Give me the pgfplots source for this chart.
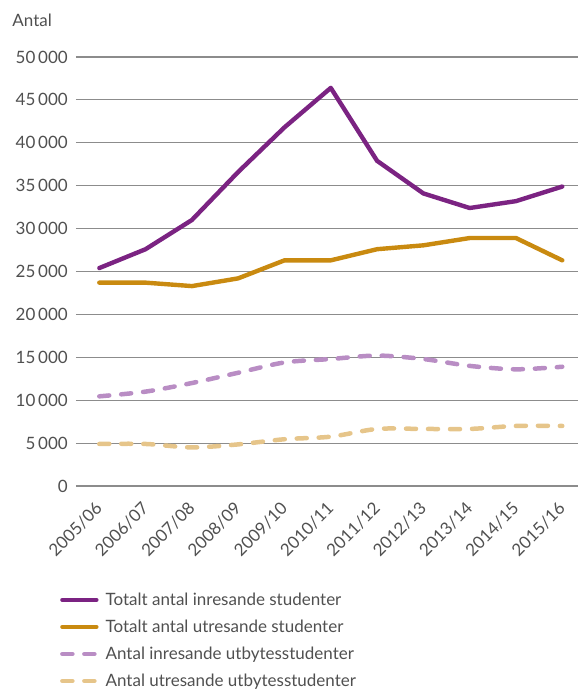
\documentclass[border=0pt]{standalone}
\usepackage{pgfplots}
\pgfplotsset{compat=1.18}
\usepackage{fontspec}
\setmainfont{Lato}
\definecolor{cP}{HTML}{7B2382}
\definecolor{cO}{HTML}{C98A10}
\definecolor{cLP}{HTML}{B98DC4}
\definecolor{cLO}{HTML}{E6C58A}
\definecolor{cGrid}{HTML}{8C8C8C}
\definecolor{cTxt}{HTML}{505050}
\begin{document}
\begin{tikzpicture}
\begin{axis}[
  scale only axis,
  width=502pt, height=429pt,
  xmin=-0.503, xmax=10.34,
  ymin=0, ymax=50000,
  axis line style={draw=none},
  ytick={0,5000,...,50000},
  ymajorgrids, grid style={cGrid, line width=1.1pt},
  major tick length=0pt,
  xtick={0,...,10},
  xticklabels={2005/06,2006/07,2007/08,2008/09,2009/10,2010/11,2011/12,2012/13,2013/14,2014/15,2015/16},
  x tick label style={rotate=45, anchor=north east, font=\fontsize{17}{19}\selectfont, text=cTxt, inner sep=0pt, xshift=-14pt, yshift=-7pt},
  y tick label style={font=\fontsize{17}{19}\selectfont, text=cTxt, inner sep=0pt, xshift=-8pt},
  scaled y ticks=false,
  /pgf/number format/.cd, 1000 sep={\,}, assume math mode=true,
  /pgfplots/.cd,
  clip=false,
  legend cell align=left,
  legend style={draw=none, fill=none, at={(axis description cs:-0.032,-0.244)}, anchor=north west,
    font=\fontsize{17}{19}\selectfont, text=cTxt, row sep=9pt, inner sep=0pt,
    /tikz/every odd column/.style={column sep=5pt}},
  legend image code/.code={\draw[#1, line cap=round] (0pt,0pt) -- (34pt,0pt);},
]
\addplot[cP, line width=4.4pt, line join=round, line cap=round] coordinates {
(0,25400)(1,27600)(2,31000)(3,36600)(4,41800)(5,46400)(6,37900)(7,34100)(8,32400)(9,33200)(10,34900)};
\addlegendentry{Totalt antal inresande studenter}
\addplot[cO, line width=4.4pt, line join=round, line cap=round] coordinates {
(0,23700)(1,23700)(2,23300)(3,24200)(4,26300)(5,26300)(6,27600)(7,28050)(8,28900)(9,28900)(10,26300)};
\addlegendentry{Totalt antal utresande studenter}
\addplot[cLP, line width=4.5pt, line cap=round, dash pattern=on 10pt off 12pt, smooth, tension=0.5] coordinates {
(0,10450)(1,11000)(2,12000)(3,13200)(4,14400)(5,14800)(6,15200)(7,14800)(8,14000)(9,13600)(10,13900)};
\addlegendentry{Antal inresande utbytesstudenter}
\addplot[cLO, line width=4.5pt, line cap=round, dash pattern=on 10pt off 12pt, smooth, tension=0.5] coordinates {
(0,4900)(1,4900)(2,4500)(3,4850)(4,5450)(5,5750)(6,6650)(7,6650)(8,6650)(9,7000)(10,7000)};
\addlegendentry{Antal utresande utbytesstudenter}
\node[anchor=base west, font=\fontsize{17}{19}\selectfont, text=cTxt, inner sep=0pt] at (axis description cs:-0.127,1.07) {Antal};
\coordinate (bl) at (rel axis cs:0,0);
\coordinate (tr) at (rel axis cs:1,1);
\end{axis}
\pgfresetboundingbox
\path ([xshift=-76pt,yshift=-204pt]bl) rectangle ([yshift=57pt]tr);
\end{tikzpicture}
\end{document}
